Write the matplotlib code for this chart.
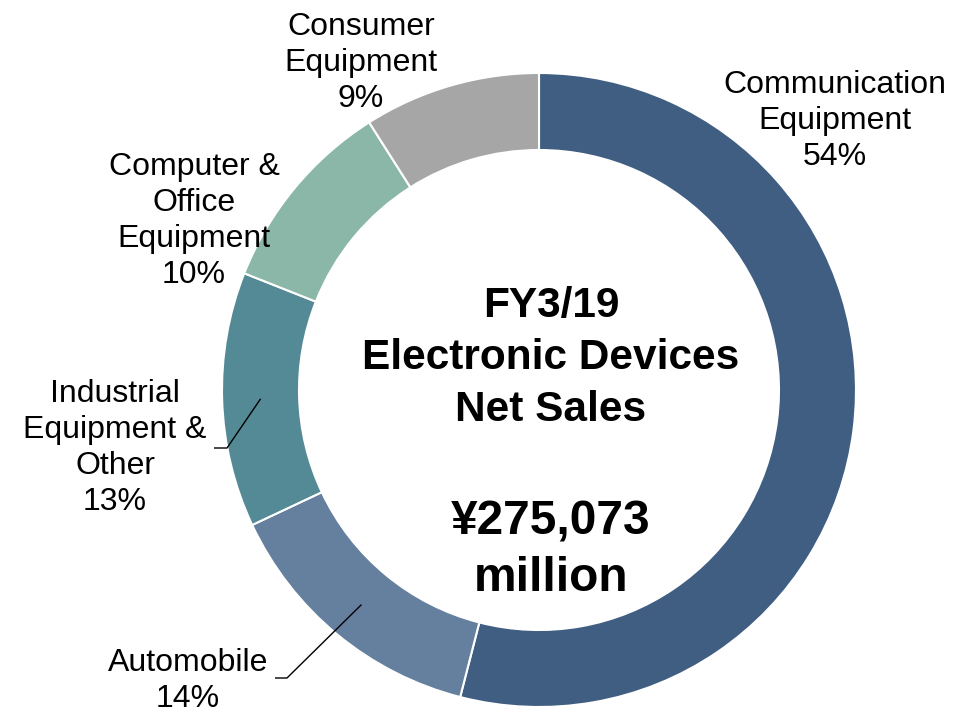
import numpy as np
import matplotlib
matplotlib.use("Agg")
import matplotlib.pyplot as plt

# Segment data (clockwise from 12 o'clock)
segments = ["Communication\nEquipment", "Automobile", "Industrial\nEquipment &\nOther",
            "Computer &\nOffice\nEquipment", "Consumer\nEquipment"]
shares = [54, 14, 13, 10, 9]
colors = ["#3F5E82", "#657F9F", "#548A96", "#8AB7A8", "#A6A6A6"]

title_lines = "FY3/19\nElectronic Devices\nNet Sales"
total_text = "\u00a5275,073\nmillion"

W, H = 965, 709
fig = plt.figure(figsize=(W / 100, H / 100), dpi=100)
plt.rcParams['font.family'] = ['Liberation Sans', 'DejaVu Sans']

# donut geometry in pixels
cx, cy, R = 539, 390, 317
ax = fig.add_axes([(cx - R) / W, (H - cy - R) / H, 2 * R / W, 2 * R / H])
ax.set_xlim(-1, 1)
ax.set_ylim(-1, 1)
ax.set_aspect('equal')
ax.axis('off')

ring = 77 / 317
wedges, _ = ax.pie(shares, colors=colors, startangle=90, counterclock=False, radius=1,
                   wedgeprops=dict(width=ring, edgecolor='white', linewidth=1.5))
ax.set_xlim(-1, 1)
ax.set_ylim(-1, 1)


def px(x, y):
    """pixel position -> data coords of the donut axes"""
    return (x - cx) / R, (cy - y) / R


fs = 23
label_pos = [(835, 121), (188, 681), (115, 448), (194, 221), (361, 63)]
for name, share, (lx, ly) in zip(segments, shares, label_pos):
    x, y = px(lx, ly)
    ax.text(x, y, f"{name}\n{share}%", ha='center', va='center', fontsize=fs,
            color='black', linespacing=1.27, clip_on=False)

# leader lines for the two labels sitting beside their segments
leaders = {1: [(287, 678), (275, 678)], 2: [(227, 448), (214, 448)]}
rmid = 1 - ring / 2
for idx, pts in leaders.items():
    w = wedges[idx]
    ang = np.deg2rad((w.theta1 + w.theta2) / 2)
    xs = [rmid * np.cos(ang)] + [px(*p)[0] for p in pts]
    ys = [rmid * np.sin(ang)] + [px(*p)[1] for p in pts]
    ax.plot(xs, ys, color='black', lw=1.0, clip_on=False, solid_capstyle='butt')

# centre captions
x, y = px(551, 358)
ax.text(x, y, title_lines, ha='center', va='center', fontsize=30.5, fontweight='bold',
        linespacing=1.38)
x, y = px(551, 550)
ax.text(x, y, total_text, ha='center', va='center', fontsize=34.5, fontweight='bold',
        linespacing=1.33)

fig.savefig("out.png", dpi=100, facecolor='white')
